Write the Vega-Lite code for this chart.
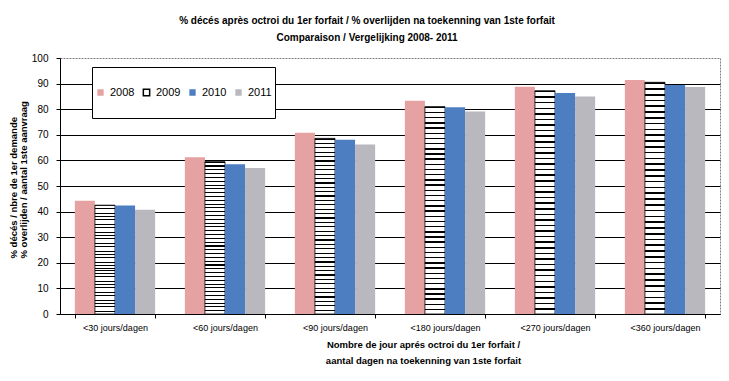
{
  "$schema": "https://vega.github.io/schema/vega-lite/v6.json",
  "autosize": "none",
  "width": 660,
  "height": 256,
  "padding": {"left": 60, "top": 58, "right": 9, "bottom": 67},
  "background": "white",
  "title": {
    "text": ["% décés après octroi du 1er forfait / % overlijden na toekenning van 1ste forfait", "Comparaison / Vergelijking 2008- 2011"],
    "font": "Liberation Sans",
    "fontSize": 10,
    "fontWeight": "bold",
    "lineHeight": 17,
    "anchor": "middle",
    "frame": "group",
    "dx": -23,
    "offset": 10,
    "color": "black"
  },
  "data": {
    "values": [
      {"cat": "<30 jours/dagen", "year": "2008", "value": 44.2},
      {"cat": "<30 jours/dagen", "year": "2009", "value": 42.5},
      {"cat": "<30 jours/dagen", "year": "2010", "value": 42.4},
      {"cat": "<30 jours/dagen", "year": "2011", "value": 40.7},
      {"cat": "<60 jours/dagen", "year": "2008", "value": 61.2},
      {"cat": "<60 jours/dagen", "year": "2009", "value": 59.5},
      {"cat": "<60 jours/dagen", "year": "2010", "value": 58.5},
      {"cat": "<60 jours/dagen", "year": "2011", "value": 57.0},
      {"cat": "<90 jours/dagen", "year": "2008", "value": 70.8},
      {"cat": "<90 jours/dagen", "year": "2009", "value": 68.6},
      {"cat": "<90 jours/dagen", "year": "2010", "value": 68.1},
      {"cat": "<90 jours/dagen", "year": "2011", "value": 66.2},
      {"cat": "<180 jours/dagen", "year": "2008", "value": 83.3},
      {"cat": "<180 jours/dagen", "year": "2009", "value": 81.0},
      {"cat": "<180 jours/dagen", "year": "2010", "value": 80.8},
      {"cat": "<180 jours/dagen", "year": "2011", "value": 79.1},
      {"cat": "<270 jours/dagen", "year": "2008", "value": 88.8},
      {"cat": "<270 jours/dagen", "year": "2009", "value": 87.2},
      {"cat": "<270 jours/dagen", "year": "2010", "value": 86.3},
      {"cat": "<270 jours/dagen", "year": "2011", "value": 85.0},
      {"cat": "<360 jours/dagen", "year": "2008", "value": 91.4},
      {"cat": "<360 jours/dagen", "year": "2009", "value": 90.5},
      {"cat": "<360 jours/dagen", "year": "2010", "value": 89.5},
      {"cat": "<360 jours/dagen", "year": "2011", "value": 88.7}
    ]
  },
  "mark": {"type": "bar", "strokeWidth": 0.8},
  "encoding": {
    "x": {
      "field": "cat",
      "type": "nominal",
      "sort": null,
      "scale": {"paddingInner": 0.27, "paddingOuter": 0.135},
      "axis": {
        "title": ["Nombre de jour aprés octroi du 1er forfait /", "aantal dagen na toekenning van 1ste forfait"],
        "titleFont": "Liberation Sans",
        "titleFontSize": 9.5,
        "titleFontWeight": "bold",
        "titleColor": "black",
        "titleLineHeight": 16,
        "titleBaseline": "top",
        "titleAlign": "center",
        "titleX": 363,
        "titleY": 25,
        "labelAngle": 0,
        "labelFont": "Liberation Sans",
        "labelFontSize": 9,
        "labelColor": "black",
        "labelPadding": 5,
        "tickBand": "extent",
        "tickSize": 4,
        "tickColor": "black",
        "domainColor": "black",
        "grid": false
      }
    },
    "xOffset": {"field": "year", "type": "nominal", "scale": {"paddingInner": 0, "paddingOuter": 0}},
    "y": {
      "field": "value",
      "type": "quantitative",
      "scale": {"domain": [0, 100]},
      "axis": {
        "values": [0, 10, 20, 30, 40, 50, 60, 70, 80, 90, 100],
        "title": ["% décés / nbre de 1er demande", "% overlijden / aantal 1ste aanvraag"],
        "titleFont": "Liberation Sans",
        "titleFontSize": 9.5,
        "titleFontWeight": "bold",
        "titleColor": "black",
        "titleLineHeight": 10,
        "titleAngle": -90,
        "titleAlign": "left",
        "titleBaseline": "top",
        "titleX": -52,
        "titleY": 200,
        "labelFont": "Liberation Sans",
        "labelFontSize": 10,
        "labelColor": "black",
        "labelPadding": 8,
        "tickSize": 4,
        "tickColor": "black",
        "domainColor": "black",
        "grid": true,
        "gridColor": {"condition": {"test": "datum.value == 100", "value": "transparent"}, "value": "black"},
        "gridOpacity": 1,
        "gridWidth": 1
      }
    },
    "fill": {
      "condition": {
        "test": "datum.year == '2009'",
        "value": {"gradient": "linear", "x1": 0, "y1": 0, "x2": 0, "y2": 1, "stops": [
            {"offset": 0, "color": "#000"}, {"offset": 0.007, "color": "#000"}, {"offset": 0.007, "color": "#fff"}, {"offset": 0.025, "color": "#fff"},
            {"offset": 0.025, "color": "#000"}, {"offset": 0.032, "color": "#000"}, {"offset": 0.032, "color": "#fff"}, {"offset": 0.05, "color": "#fff"},
            {"offset": 0.05, "color": "#000"}, {"offset": 0.057, "color": "#000"}, {"offset": 0.057, "color": "#fff"}, {"offset": 0.075, "color": "#fff"},
            {"offset": 0.075, "color": "#000"}, {"offset": 0.082, "color": "#000"}, {"offset": 0.082, "color": "#fff"}, {"offset": 0.1, "color": "#fff"},
            {"offset": 0.1, "color": "#000"}, {"offset": 0.107, "color": "#000"}, {"offset": 0.107, "color": "#fff"}, {"offset": 0.125, "color": "#fff"},
            {"offset": 0.125, "color": "#000"}, {"offset": 0.132, "color": "#000"}, {"offset": 0.132, "color": "#fff"}, {"offset": 0.15, "color": "#fff"},
            {"offset": 0.15, "color": "#000"}, {"offset": 0.157, "color": "#000"}, {"offset": 0.157, "color": "#fff"}, {"offset": 0.175, "color": "#fff"},
            {"offset": 0.175, "color": "#000"}, {"offset": 0.182, "color": "#000"}, {"offset": 0.182, "color": "#fff"}, {"offset": 0.2, "color": "#fff"},
            {"offset": 0.2, "color": "#000"}, {"offset": 0.207, "color": "#000"}, {"offset": 0.207, "color": "#fff"}, {"offset": 0.225, "color": "#fff"},
            {"offset": 0.225, "color": "#000"}, {"offset": 0.232, "color": "#000"}, {"offset": 0.232, "color": "#fff"}, {"offset": 0.25, "color": "#fff"},
            {"offset": 0.25, "color": "#000"}, {"offset": 0.257, "color": "#000"}, {"offset": 0.257, "color": "#fff"}, {"offset": 0.275, "color": "#fff"},
            {"offset": 0.275, "color": "#000"}, {"offset": 0.282, "color": "#000"}, {"offset": 0.282, "color": "#fff"}, {"offset": 0.3, "color": "#fff"},
            {"offset": 0.3, "color": "#000"}, {"offset": 0.307, "color": "#000"}, {"offset": 0.307, "color": "#fff"}, {"offset": 0.325, "color": "#fff"},
            {"offset": 0.325, "color": "#000"}, {"offset": 0.332, "color": "#000"}, {"offset": 0.332, "color": "#fff"}, {"offset": 0.35, "color": "#fff"},
            {"offset": 0.35, "color": "#000"}, {"offset": 0.357, "color": "#000"}, {"offset": 0.357, "color": "#fff"}, {"offset": 0.375, "color": "#fff"},
            {"offset": 0.375, "color": "#000"}, {"offset": 0.382, "color": "#000"}, {"offset": 0.382, "color": "#fff"}, {"offset": 0.4, "color": "#fff"},
            {"offset": 0.4, "color": "#000"}, {"offset": 0.407, "color": "#000"}, {"offset": 0.407, "color": "#fff"}, {"offset": 0.425, "color": "#fff"},
            {"offset": 0.425, "color": "#000"}, {"offset": 0.432, "color": "#000"}, {"offset": 0.432, "color": "#fff"}, {"offset": 0.45, "color": "#fff"},
            {"offset": 0.45, "color": "#000"}, {"offset": 0.457, "color": "#000"}, {"offset": 0.457, "color": "#fff"}, {"offset": 0.475, "color": "#fff"},
            {"offset": 0.475, "color": "#000"}, {"offset": 0.482, "color": "#000"}, {"offset": 0.482, "color": "#fff"}, {"offset": 0.5, "color": "#fff"},
            {"offset": 0.5, "color": "#000"}, {"offset": 0.507, "color": "#000"}, {"offset": 0.507, "color": "#fff"}, {"offset": 0.525, "color": "#fff"},
            {"offset": 0.525, "color": "#000"}, {"offset": 0.532, "color": "#000"}, {"offset": 0.532, "color": "#fff"}, {"offset": 0.55, "color": "#fff"},
            {"offset": 0.55, "color": "#000"}, {"offset": 0.557, "color": "#000"}, {"offset": 0.557, "color": "#fff"}, {"offset": 0.575, "color": "#fff"},
            {"offset": 0.575, "color": "#000"}, {"offset": 0.582, "color": "#000"}, {"offset": 0.582, "color": "#fff"}, {"offset": 0.6, "color": "#fff"},
            {"offset": 0.6, "color": "#000"}, {"offset": 0.607, "color": "#000"}, {"offset": 0.607, "color": "#fff"}, {"offset": 0.625, "color": "#fff"},
            {"offset": 0.625, "color": "#000"}, {"offset": 0.632, "color": "#000"}, {"offset": 0.632, "color": "#fff"}, {"offset": 0.65, "color": "#fff"},
            {"offset": 0.65, "color": "#000"}, {"offset": 0.657, "color": "#000"}, {"offset": 0.657, "color": "#fff"}, {"offset": 0.675, "color": "#fff"},
            {"offset": 0.675, "color": "#000"}, {"offset": 0.682, "color": "#000"}, {"offset": 0.682, "color": "#fff"}, {"offset": 0.7, "color": "#fff"},
            {"offset": 0.7, "color": "#000"}, {"offset": 0.707, "color": "#000"}, {"offset": 0.707, "color": "#fff"}, {"offset": 0.725, "color": "#fff"},
            {"offset": 0.725, "color": "#000"}, {"offset": 0.732, "color": "#000"}, {"offset": 0.732, "color": "#fff"}, {"offset": 0.75, "color": "#fff"},
            {"offset": 0.75, "color": "#000"}, {"offset": 0.757, "color": "#000"}, {"offset": 0.757, "color": "#fff"}, {"offset": 0.775, "color": "#fff"},
            {"offset": 0.775, "color": "#000"}, {"offset": 0.782, "color": "#000"}, {"offset": 0.782, "color": "#fff"}, {"offset": 0.8, "color": "#fff"},
            {"offset": 0.8, "color": "#000"}, {"offset": 0.807, "color": "#000"}, {"offset": 0.807, "color": "#fff"}, {"offset": 0.825, "color": "#fff"},
            {"offset": 0.825, "color": "#000"}, {"offset": 0.832, "color": "#000"}, {"offset": 0.832, "color": "#fff"}, {"offset": 0.85, "color": "#fff"},
            {"offset": 0.85, "color": "#000"}, {"offset": 0.857, "color": "#000"}, {"offset": 0.857, "color": "#fff"}, {"offset": 0.875, "color": "#fff"},
            {"offset": 0.875, "color": "#000"}, {"offset": 0.882, "color": "#000"}, {"offset": 0.882, "color": "#fff"}, {"offset": 0.9, "color": "#fff"},
            {"offset": 0.9, "color": "#000"}, {"offset": 0.907, "color": "#000"}, {"offset": 0.907, "color": "#fff"}, {"offset": 0.925, "color": "#fff"},
            {"offset": 0.925, "color": "#000"}, {"offset": 0.932, "color": "#000"}, {"offset": 0.932, "color": "#fff"}, {"offset": 0.95, "color": "#fff"},
            {"offset": 0.95, "color": "#000"}, {"offset": 0.957, "color": "#000"}, {"offset": 0.957, "color": "#fff"}, {"offset": 0.975, "color": "#fff"},
            {"offset": 0.975, "color": "#000"}, {"offset": 0.982, "color": "#000"}, {"offset": 0.982, "color": "#fff"}, {"offset": 1, "color": "#fff"}
          ]}
      },
      "field": "year",
      "type": "nominal",
      "scale": {
        "domain": ["2008", "2009", "2010", "2011"],
        "range": ["#E6A2A2", "#FFFFFF", "#4D7EC2", "#B8B8BE"]
      },
      "legend": {
        "title": null,
        "orient": "none",
        "legendX": 32,
        "legendY": 9,
        "direction": "horizontal",
        "symbolType": "square",
        "symbolSize": 40,
        "labelFont": "Liberation Sans",
        "labelFontSize": 11,
        "labelColor": "black",
        "labelOffset": 4,
        "columnPadding": 6,
        "padding": 3,
        "clipHeight": 45,
        "strokeColor": "black",
        "fillColor": "white"
      }
    },
    "stroke": {
      "field": "year",
      "type": "nominal",
      "scale": {
        "domain": ["2008", "2009", "2010", "2011"],
        "range": ["transparent", "black", "transparent", "transparent"]
      },
      "legend": {
        "title": null,
        "orient": "none",
        "legendX": 32,
        "legendY": 9,
        "direction": "horizontal",
        "symbolType": "square",
        "symbolSize": 40,
        "labelFont": "Liberation Sans",
        "labelFontSize": 11,
        "labelColor": "black",
        "labelOffset": 4,
        "columnPadding": 6,
        "padding": 3,
        "clipHeight": 45,
        "strokeColor": "black",
        "fillColor": "white"
      }
    }
  },
  "config": {
    "view": {"stroke": "#808080", "strokeDash": [2, 1]}
  }
}
